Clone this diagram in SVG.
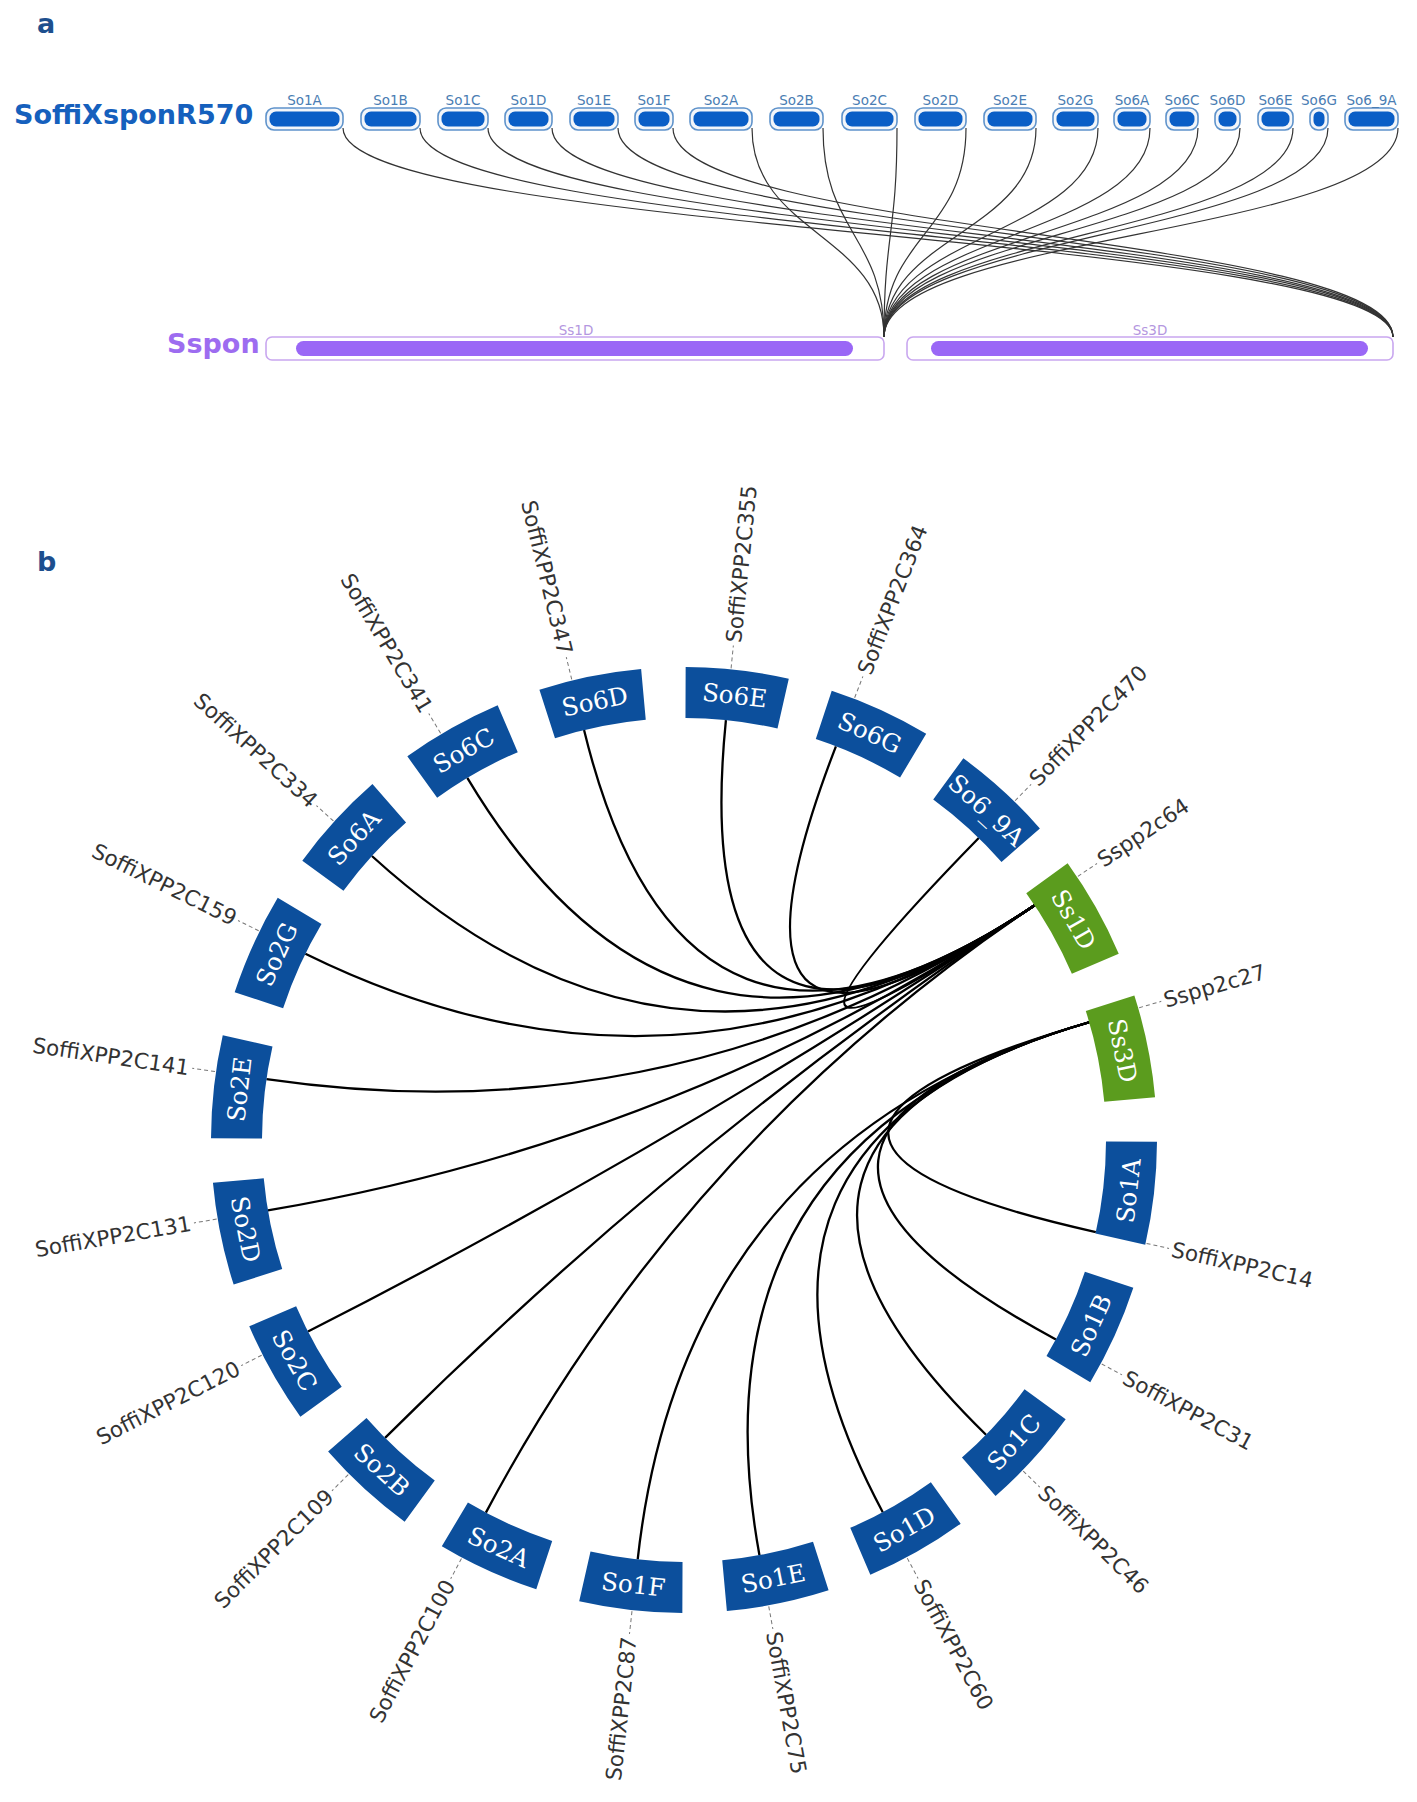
<svg xmlns="http://www.w3.org/2000/svg" xmlns:xlink="http://www.w3.org/1999/xlink" width="1417" height="1802" viewBox="0 0 1417 1802">
<style>
.pl{font-family:"DejaVu Sans",sans-serif;font-weight:bold;font-size:27px;fill:#1d4f8e}
.ti{font-family:"DejaVu Sans",sans-serif;font-weight:bold;font-size:27px}
.o{fill:#f3f6fa;stroke:#5f93cb;stroke-width:1.6}
.i{fill:#0a5ec6}
.cl{font-family:"DejaVu Sans",sans-serif;font-size:13.5px;fill:#4a7db3;text-anchor:middle}
.po{fill:#fff;stroke:#c9a7ef;stroke-width:1.6}
.pi{fill:#9a67f6}
.pll{font-family:"DejaVu Sans",sans-serif;font-size:13.5px;fill:#b497e0;text-anchor:middle}
.lka{fill:none;stroke:#333;stroke-width:1.2}
.blu{fill:#0c4f9c}
.grn{fill:#5b9c1e}
.bt{font-family:"DejaVu Serif",serif;font-size:24.5px;fill:#fff;text-anchor:middle;dominant-baseline:central}
.gl{font-family:"DejaVu Sans",sans-serif;font-size:21.5px;fill:#333;dominant-baseline:central}
.ld{stroke:#777;stroke-width:1;stroke-dasharray:4 3}
.lk{fill:none;stroke:#000;stroke-width:2.3}
</style>
<defs>
<path id="sec" d="M -51.90 -470.14 A 473 473 0 0 1 51.90 -470.14 L 46.31 -419.45 A 422 422 0 0 0 -46.31 -419.45 Z"/>
</defs>
<rect width="1417" height="1802" fill="#fff"/>

<text class="pl" x="37" y="33">a</text>
<text class="pl" x="37" y="571">b</text>

<!-- Part a titles -->
<text class="ti" x="14" y="124" fill="#1560bd">SoffiXsponR570</text>
<text class="ti" x="167" y="353" font-size="26" fill="#9d6cf0">Sspon</text>

<!-- Part a connectors -->
<g id="connectors-a">
<path class="lka" d="M 343 128 C 343 234 1393 234 1393 337"/>
<path class="lka" d="M 420 128 C 420 234 1393 234 1393 337"/>
<path class="lka" d="M 488 128 C 488 234 1393 234 1393 337"/>
<path class="lka" d="M 552 128 C 552 234 1393 234 1393 337"/>
<path class="lka" d="M 618 128 C 618 234 1393 234 1393 337"/>
<path class="lka" d="M 673 128 C 673 234 1393 234 1393 337"/>
<path class="lka" d="M 752 128 C 752 234 884 234 884 337"/>
<path class="lka" d="M 823 128 C 823 234 884 234 884 337"/>
<path class="lka" d="M 897 128 C 897 234 884 234 884 337"/>
<path class="lka" d="M 966 128 C 966 234 884 234 884 337"/>
<path class="lka" d="M 1036 128 C 1036 234 884 234 884 337"/>
<path class="lka" d="M 1098 128 C 1098 234 884 234 884 337"/>
<path class="lka" d="M 1150 128 C 1150 234 884 234 884 337"/>
<path class="lka" d="M 1198 128 C 1198 234 884 234 884 337"/>
<path class="lka" d="M 1240 128 C 1240 234 884 234 884 337"/>
<path class="lka" d="M 1293 128 C 1293 234 884 234 884 337"/>
<path class="lka" d="M 1328 128 C 1328 234 884 234 884 337"/>
<path class="lka" d="M 1398 128 C 1398 234 884 234 884 337"/>
</g>

<!-- Part a top chromosomes -->
<g id="a-So1A"><rect class="o" x="266" y="108" width="77" height="22" rx="8"/><rect class="i" x="269.5" y="111.5" width="70" height="15" rx="6.5"/><text class="cl" x="304.5" y="105">So1A</text></g>
<g id="a-So1B"><rect class="o" x="361" y="108" width="59" height="22" rx="8"/><rect class="i" x="364.5" y="111.5" width="52" height="15" rx="6.5"/><text class="cl" x="390.5" y="105">So1B</text></g>
<g id="a-So1C"><rect class="o" x="438" y="108" width="50" height="22" rx="8"/><rect class="i" x="441.5" y="111.5" width="43" height="15" rx="6.5"/><text class="cl" x="463" y="105">So1C</text></g>
<g id="a-So1D"><rect class="o" x="505" y="108" width="47" height="22" rx="8"/><rect class="i" x="508.5" y="111.5" width="40" height="15" rx="6.5"/><text class="cl" x="528.5" y="105">So1D</text></g>
<g id="a-So1E"><rect class="o" x="570" y="108" width="48" height="22" rx="8"/><rect class="i" x="573.5" y="111.5" width="41" height="15" rx="6.5"/><text class="cl" x="594" y="105">So1E</text></g>
<g id="a-So1F"><rect class="o" x="635" y="108" width="38" height="22" rx="8"/><rect class="i" x="638.5" y="111.5" width="31" height="15" rx="6.5"/><text class="cl" x="654" y="105">So1F</text></g>
<g id="a-So2A"><rect class="o" x="690" y="108" width="62" height="22" rx="8"/><rect class="i" x="693.5" y="111.5" width="55" height="15" rx="6.5"/><text class="cl" x="721" y="105">So2A</text></g>
<g id="a-So2B"><rect class="o" x="770" y="108" width="53" height="22" rx="8"/><rect class="i" x="773.5" y="111.5" width="46" height="15" rx="6.5"/><text class="cl" x="796.5" y="105">So2B</text></g>
<g id="a-So2C"><rect class="o" x="842" y="108" width="55" height="22" rx="8"/><rect class="i" x="845.5" y="111.5" width="48" height="15" rx="6.5"/><text class="cl" x="869.5" y="105">So2C</text></g>
<g id="a-So2D"><rect class="o" x="915" y="108" width="51" height="22" rx="8"/><rect class="i" x="918.5" y="111.5" width="44" height="15" rx="6.5"/><text class="cl" x="940.5" y="105">So2D</text></g>
<g id="a-So2E"><rect class="o" x="984" y="108" width="52" height="22" rx="8"/><rect class="i" x="987.5" y="111.5" width="45" height="15" rx="6.5"/><text class="cl" x="1010" y="105">So2E</text></g>
<g id="a-So2G"><rect class="o" x="1053" y="108" width="45" height="22" rx="8"/><rect class="i" x="1056.5" y="111.5" width="38" height="15" rx="6.5"/><text class="cl" x="1075.5" y="105">So2G</text></g>
<g id="a-So6A"><rect class="o" x="1114" y="108" width="36" height="22" rx="8"/><rect class="i" x="1117.5" y="111.5" width="29" height="15" rx="6.5"/><text class="cl" x="1132" y="105">So6A</text></g>
<g id="a-So6C"><rect class="o" x="1166" y="108" width="32" height="22" rx="8"/><rect class="i" x="1169.5" y="111.5" width="25" height="15" rx="6.5"/><text class="cl" x="1182" y="105">So6C</text></g>
<g id="a-So6D"><rect class="o" x="1215" y="108" width="25" height="22" rx="8"/><rect class="i" x="1218.5" y="111.5" width="18" height="15" rx="6.5"/><text class="cl" x="1227.5" y="105">So6D</text></g>
<g id="a-So6E"><rect class="o" x="1258" y="108" width="35" height="22" rx="8"/><rect class="i" x="1261.5" y="111.5" width="28" height="15" rx="6.5"/><text class="cl" x="1275.5" y="105">So6E</text></g>
<g id="a-So6G"><rect class="o" x="1310" y="108" width="18" height="22" rx="8"/><rect class="i" x="1313.5" y="111.5" width="11" height="15" rx="5.5"/><text class="cl" x="1319" y="105">So6G</text></g>
<g id="a-So6_9A"><rect class="o" x="1345" y="108" width="53" height="22" rx="8"/><rect class="i" x="1348.5" y="111.5" width="46" height="15" rx="6.5"/><text class="cl" x="1371.5" y="105">So6_9A</text></g>

<!-- Part a bottom chromosomes -->
<g id="a-Ss1D"><rect class="po" x="266" y="337" width="618" height="23" rx="6"/><rect class="pi" x="296" y="341" width="557" height="15" rx="7.5"/><text class="pll" x="576" y="335">Ss1D</text></g>
<g id="a-Ss3D"><rect class="po" x="907" y="337" width="486" height="23" rx="6"/><rect class="pi" x="931" y="341" width="437" height="15" rx="7.5"/><text class="pll" x="1150" y="335">Ss3D</text></g>

<!-- Part b connectors -->
<g id="connectors-b">
<path class="lk" d="M 1034.68 905.24 Q 684 1140 725.91 720.08"/>
<path class="lk" d="M 1034.68 905.24 Q 684 1140 835.92 746.30"/>
<path class="lk" d="M 1034.68 905.24 Q 684 1140 978.73 837.98"/>
<path class="lk" d="M 1034.68 905.24 Q 684 1140 584.05 730.00"/>
<path class="lk" d="M 1034.68 905.24 Q 684 1140 467.31 777.88"/>
<path class="lk" d="M 1034.68 905.24 Q 684 1140 371.88 855.99"/>
<path class="lk" d="M 1034.68 905.24 Q 684 1140 305.36 953.68"/>
<path class="lk" d="M 1034.68 905.24 Q 684 1140 266.42 1079.08"/>
<path class="lk" d="M 1034.68 905.24 Q 684 1140 267.91 1210.38"/>
<path class="lk" d="M 1034.68 905.24 Q 684 1140 307.99 1331.58"/>
<path class="lk" d="M 1034.68 905.24 Q 684 1140 385.08 1437.88"/>
<path class="lk" d="M 1034.68 905.24 Q 684 1140 485.88 1512.60"/>
<path class="lk" d="M 1089.24 1022.27 Q 684 1140 1095.84 1232.05"/>
<path class="lk" d="M 1089.24 1022.27 Q 684 1140 1055.91 1339.42"/>
<path class="lk" d="M 1089.24 1022.27 Q 684 1140 986.02 1434.73"/>
<path class="lk" d="M 1089.24 1022.27 Q 684 1140 882.77 1512.26"/>
<path class="lk" d="M 1089.24 1022.27 Q 684 1140 759.45 1555.20"/>
<path class="lk" d="M 1089.24 1022.27 Q 684 1140 637.69 1559.45"/>
</g>

<!-- Part b nodes -->
<g id="b-So6E">
<g transform="translate(684 1140) rotate(6.5)"><use href="#sec" xlink:href="#sec" class="blu"/><text class="bt" y="-447.5">So6E</text></g>
<g transform="translate(684 1140) rotate(5.7)"><line class="ld" x1="0" y1="-474" x2="0" y2="-497"/><text class="gl" transform="translate(0 -500) rotate(-90)">SoffiXPP2C355</text></g>
</g>
<g id="b-So6G">
<g transform="translate(684 1140) rotate(24.5)"><use href="#sec" xlink:href="#sec" class="blu"/><text class="bt" y="-447.5">So6G</text></g>
<g transform="translate(684 1140) rotate(21.1)"><line class="ld" x1="0" y1="-474" x2="0" y2="-497"/><text class="gl" transform="translate(0 -500) rotate(-90)">SoffiXPP2C364</text></g>
</g>
<g id="b-So6_9A">
<g transform="translate(684 1140) rotate(42.5)"><use href="#sec" xlink:href="#sec" class="blu"/><text class="bt" y="-447.5">So6_9A</text></g>
<g transform="translate(684 1140) rotate(44.3)"><line class="ld" x1="0" y1="-474" x2="0" y2="-497"/><text class="gl" transform="translate(0 -500) rotate(-90)">SoffiXPP2C470</text></g>
</g>
<g id="b-Ss1D">
<g transform="translate(684 1140) rotate(60.5)"><use href="#sec" xlink:href="#sec" class="grn"/><text class="bt" y="-447.5">Ss1D</text></g>
<g transform="translate(684 1140) rotate(56.2)"><line class="ld" x1="0" y1="-474" x2="0" y2="-497"/><text class="gl" transform="translate(0 -500) rotate(-90)">Sspp2c64</text></g>
</g>
<g id="b-Ss3D">
<g transform="translate(684 1140) rotate(78.5)"><use href="#sec" xlink:href="#sec" class="grn"/><text class="bt" y="-447.5">Ss3D</text></g>
<g transform="translate(684 1140) rotate(73.8)"><line class="ld" x1="0" y1="-474" x2="0" y2="-497"/><text class="gl" transform="translate(0 -500) rotate(-90)">Sspp2c27</text></g>
</g>
<g id="b-So1A">
<g transform="translate(684 1140) rotate(96.5)"><use href="#sec" xlink:href="#sec" class="blu"/><text class="bt" y="-447.5" transform="rotate(180 0 -447.5)">So1A</text></g>
<g transform="translate(684 1140) rotate(102.6)"><line class="ld" x1="0" y1="-474" x2="0" y2="-497"/><text class="gl" transform="translate(0 -500) rotate(-90)">SoffiXPP2C14</text></g>
</g>
<g id="b-So1B">
<g transform="translate(684 1140) rotate(114.5)"><use href="#sec" xlink:href="#sec" class="blu"/><text class="bt" y="-447.5" transform="rotate(180 0 -447.5)">So1B</text></g>
<g transform="translate(684 1140) rotate(118.2)"><line class="ld" x1="0" y1="-474" x2="0" y2="-497"/><text class="gl" transform="translate(0 -500) rotate(-90)">SoffiXPP2C31</text></g>
</g>
<g id="b-So1C">
<g transform="translate(684 1140) rotate(132.5)"><use href="#sec" xlink:href="#sec" class="blu"/><text class="bt" y="-447.5" transform="rotate(180 0 -447.5)">So1C</text></g>
<g transform="translate(684 1140) rotate(134.3)"><line class="ld" x1="0" y1="-474" x2="0" y2="-497"/><text class="gl" transform="translate(0 -500) rotate(-90)">SoffiXPP2C46</text></g>
</g>
<g id="b-So1D">
<g transform="translate(684 1140) rotate(150.5)"><use href="#sec" xlink:href="#sec" class="blu"/><text class="bt" y="-447.5" transform="rotate(180 0 -447.5)">So1D</text></g>
<g transform="translate(684 1140) rotate(151.9)"><line class="ld" x1="0" y1="-474" x2="0" y2="-497"/><text class="gl" transform="translate(0 -500) rotate(-90)">SoffiXPP2C60</text></g>
</g>
<g id="b-So1E">
<g transform="translate(684 1140) rotate(168.5)"><use href="#sec" xlink:href="#sec" class="blu"/><text class="bt" y="-447.5" transform="rotate(180 0 -447.5)">So1E</text></g>
<g transform="translate(684 1140) rotate(169.7)"><line class="ld" x1="0" y1="-474" x2="0" y2="-497"/><text class="gl" transform="translate(0 -500) rotate(-90)">SoffiXPP2C75</text></g>
</g>
<g id="b-So1F">
<g transform="translate(684 1140) rotate(186.5)"><use href="#sec" xlink:href="#sec" class="blu"/><text class="bt" y="-447.5" transform="rotate(180 0 -447.5)">So1F</text></g>
<g transform="translate(684 1140) rotate(186.3)"><line class="ld" x1="0" y1="-474" x2="0" y2="-497"/><text class="gl" text-anchor="end" transform="translate(0 -500) rotate(90)">SoffiXPP2C87</text></g>
</g>
<g id="b-So2A">
<g transform="translate(684 1140) rotate(204.5)"><use href="#sec" xlink:href="#sec" class="blu"/><text class="bt" y="-447.5" transform="rotate(180 0 -447.5)">So2A</text></g>
<g transform="translate(684 1140) rotate(208)"><line class="ld" x1="0" y1="-474" x2="0" y2="-497"/><text class="gl" text-anchor="end" transform="translate(0 -500) rotate(90)">SoffiXPP2C100</text></g>
</g>
<g id="b-So2B">
<g transform="translate(684 1140) rotate(222.5)"><use href="#sec" xlink:href="#sec" class="blu"/><text class="bt" y="-447.5" transform="rotate(180 0 -447.5)">So2B</text></g>
<g transform="translate(684 1140) rotate(225.1)"><line class="ld" x1="0" y1="-474" x2="0" y2="-497"/><text class="gl" text-anchor="end" transform="translate(0 -500) rotate(90)">SoffiXPP2C109</text></g>
</g>
<g id="b-So2C">
<g transform="translate(684 1140) rotate(240.5)"><use href="#sec" xlink:href="#sec" class="blu"/><text class="bt" y="-447.5" transform="rotate(180 0 -447.5)">So2C</text></g>
<g transform="translate(684 1140) rotate(243)"><line class="ld" x1="0" y1="-474" x2="0" y2="-497"/><text class="gl" text-anchor="end" transform="translate(0 -500) rotate(90)">SoffiXPP2C120</text></g>
</g>
<g id="b-So2D">
<g transform="translate(684 1140) rotate(258.5)"><use href="#sec" xlink:href="#sec" class="blu"/><text class="bt" y="-447.5" transform="rotate(180 0 -447.5)">So2D</text></g>
<g transform="translate(684 1140) rotate(260.4)"><line class="ld" x1="0" y1="-474" x2="0" y2="-497"/><text class="gl" text-anchor="end" transform="translate(0 -500) rotate(90)">SoffiXPP2C131</text></g>
</g>
<g id="b-So2E">
<g transform="translate(684 1140) rotate(276.5)"><use href="#sec" xlink:href="#sec" class="blu"/><text class="bt" y="-447.5">So2E</text></g>
<g transform="translate(684 1140) rotate(278.3)"><line class="ld" x1="0" y1="-474" x2="0" y2="-497"/><text class="gl" text-anchor="end" transform="translate(0 -500) rotate(90)">SoffiXPP2C141</text></g>
</g>
<g id="b-So2G">
<g transform="translate(684 1140) rotate(294.5)"><use href="#sec" xlink:href="#sec" class="blu"/><text class="bt" y="-447.5">So2G</text></g>
<g transform="translate(684 1140) rotate(296.2)"><line class="ld" x1="0" y1="-474" x2="0" y2="-497"/><text class="gl" text-anchor="end" transform="translate(0 -500) rotate(90)">SoffiXPP2C159</text></g>
</g>
<g id="b-So6A">
<g transform="translate(684 1140) rotate(312.5)"><use href="#sec" xlink:href="#sec" class="blu"/><text class="bt" y="-447.5">So6A</text></g>
<g transform="translate(684 1140) rotate(312.3)"><line class="ld" x1="0" y1="-474" x2="0" y2="-497"/><text class="gl" text-anchor="end" transform="translate(0 -500) rotate(90)">SoffiXPP2C334</text></g>
</g>
<g id="b-So6C">
<g transform="translate(684 1140) rotate(330.5)"><use href="#sec" xlink:href="#sec" class="blu"/><text class="bt" y="-447.5">So6C</text></g>
<g transform="translate(684 1140) rotate(329.1)"><line class="ld" x1="0" y1="-474" x2="0" y2="-497"/><text class="gl" text-anchor="end" transform="translate(0 -500) rotate(90)">SoffiXPP2C341</text></g>
</g>
<g id="b-So6D">
<g transform="translate(684 1140) rotate(348.5)"><use href="#sec" xlink:href="#sec" class="blu"/><text class="bt" y="-447.5">So6D</text></g>
<g transform="translate(684 1140) rotate(346.3)"><line class="ld" x1="0" y1="-474" x2="0" y2="-497"/><text class="gl" text-anchor="end" transform="translate(0 -500) rotate(90)">SoffiXPP2C347</text></g>
</g>
</svg>
